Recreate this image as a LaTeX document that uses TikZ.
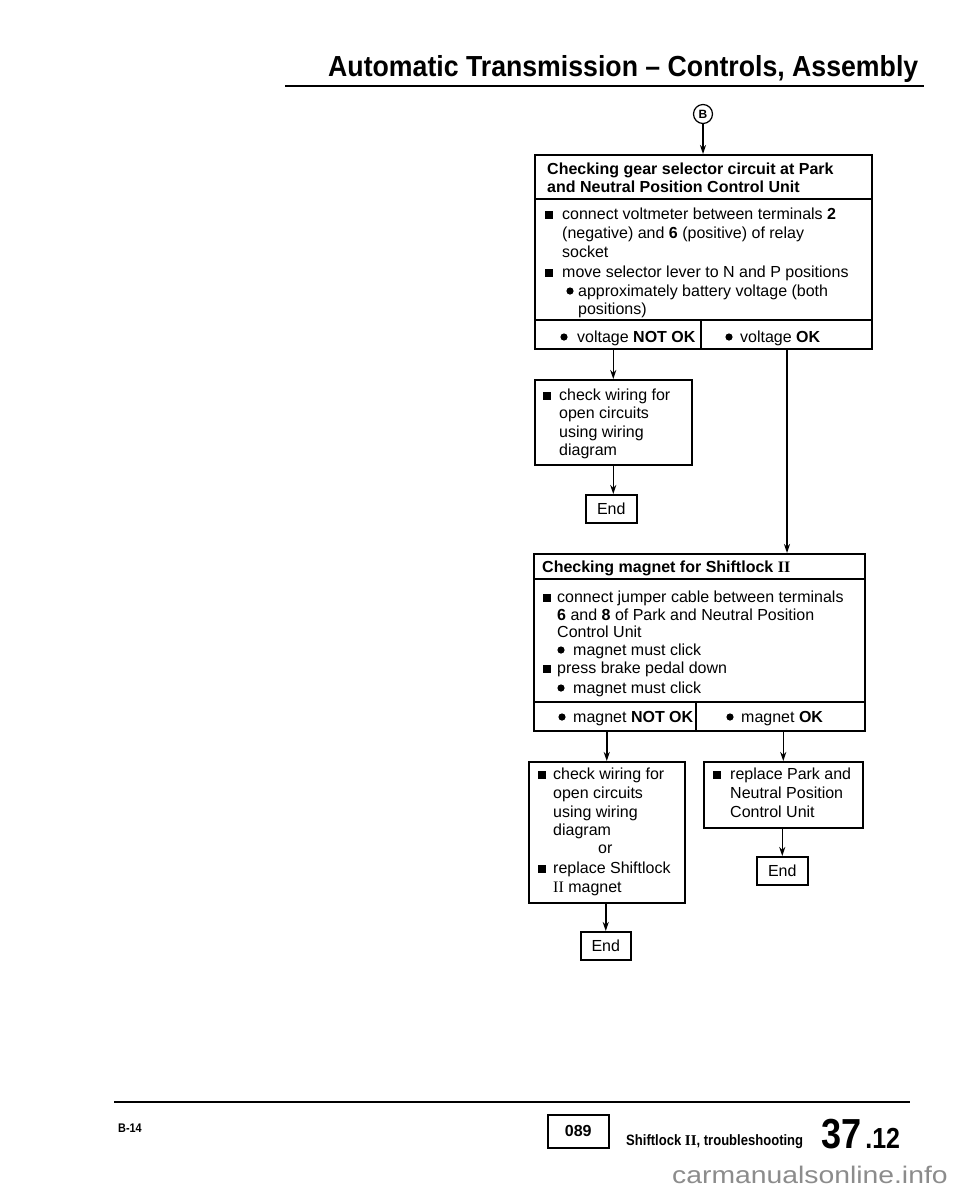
\documentclass[tikz,border=0pt]{standalone}
\usepackage{fontspec}
\setmainfont{Liberation Sans}
\newfontfamily\serifII{Liberation Serif}
\newfontfamily\titlefont[FakeStretch=0.92]{Liberation Sans}
\newfontfamily\condfont[FakeStretch=0.87]{Liberation Sans}
\newfontfamily\numfont[FakeStretch=0.86]{Liberation Sans}
\newfontfamily\wmfont[FakeStretch=1.18]{Liberation Sans}
\usetikzlibrary{arrows.meta}
\newcommand\rmII{{\serifII II}}
\tikzset{
  box/.style={draw, line width=1.5pt, anchor=north west, inner sep=0pt},
  endbox/.style={box, minimum width=51pt, minimum height=28pt, font=\fontsize{16}{19}\selectfont},
  txt/.style={anchor=base west, inner sep=0pt, font=\fontsize{16}{19}\selectfont},
  htxt/.style={txt, font=\bfseries\fontsize{16}{19}\selectfont},
  arr/.style={line width=1.5pt, -{Stealth[length=9pt,width=6pt]}},
  divider/.style={line width=1.5pt},
  rulebar/.style={line width=2.4pt},
}
\newcommand\bsq[2]{\fill (#1,#2) rectangle ++(8,-8);}
\newcommand\bdot[2]{\fill (#1,#2-5) circle (3.6);}
\begin{document}
\begin{tikzpicture}[x=1pt,y=-1pt]
\useasboundingbox (0,0) rectangle (960,1187);
\fill[white] (0,0) rectangle (960,1187);

% title
\node[anchor=base west, inner sep=0pt, font=\titlefont\bfseries\fontsize{29}{30}\selectfont] (title) at (328,76) {Automatic Transmission \textendash\ Controls, Assembly};
\draw[rulebar] (285,86) -- (924,86);

% marker B
\node[draw, circle, line width=1.2pt, minimum size=19pt, inner sep=0pt, font=\bfseries\fontsize{12}{12}\selectfont] (circB) at (703,114) {B};

% Box 1
\node[box, minimum width=337pt, minimum height=194pt] (b1) at (534,154) {};
\draw[divider] (534,199) -- (871,199);
\draw[divider] (534,320) -- (871,320);
\draw[divider] (701,320) -- (701,348);
\node[htxt] (h1a) at (547,174) {Checking gear selector circuit at Park};
\node[htxt] (h1b) at (547,192) {and Neutral Position Control Unit};
\bsq{545}{219}
\node[txt] (l1a) at (562,219) {connect voltmeter between terminals \textbf{2}};
\node[txt] (l1b) at (562,238) {(negative) and \textbf{6} (positive) of relay};
\node[txt] (l1c) at (562,257) {socket};
\bsq{545}{277}
\node[txt] (l1d) at (562,277) {move selector lever to N and P positions};
\bdot{570}{296}
\node[txt] (l1e) at (578,296) {approximately battery voltage (both};
\node[txt] (l1f) at (578,314) {positions)};
\bdot{564}{342}
\node[txt] (l1g) at (577,342) {voltage \textbf{NOT OK}};
\bdot{729}{342}
\node[txt] (l1h) at (740,342) {voltage \textbf{OK}};
\coordinate (b1R) at (787,334);

% Box 2
\node[box, minimum width=157pt, minimum height=85pt] (b2) at (534,379) {};
\bsq{543}{400}
\node[txt] (l2a) at (559,400) {check wiring for};
\node[txt] (l2b) at (559,418) {open circuits};
\node[txt] (l2c) at (559,437) {using wiring};
\node[txt] (l2d) at (559,455) {diagram};

% End 1
\node[endbox] (e1) at (585,494) {End};

% Box 3
\node[box, minimum width=331pt, minimum height=177pt] (b3) at (533,553) {};
\draw[divider] (533,579) -- (864,579);
\draw[divider] (533,702) -- (864,702);
\draw[divider] (696,702) -- (696,730);
\node[htxt] (h3) at (542,572) {Checking magnet for Shiftlock \rmII};
\bsq{543}{602}
\node[txt] (l3a) at (557,602) {connect jumper cable between terminals};
\node[txt] (l3b) at (557,620) {\textbf{6} and \textbf{8} of Park and Neutral Position};
\node[txt] (l3c) at (557,637) {Control Unit};
\bdot{561}{655}
\node[txt] (l3d) at (573,655) {magnet must click};
\bsq{543}{673}
\node[txt] (l3e) at (557,673) {press brake pedal down};
\bdot{561}{693}
\node[txt] (l3f) at (573,693) {magnet must click};
\bdot{562}{722}
\node[txt] (l3g) at (573,722) {magnet \textbf{NOT OK}};
\bdot{730}{722}
\node[txt] (l3h) at (741,722) {magnet \textbf{OK}};

% Box 4
\node[box, minimum width=156pt, minimum height=141pt] (b4) at (528,761) {};
\bsq{538}{779}
\node[txt] (l4a) at (553,779) {check wiring for};
\node[txt] (l4b) at (553,798) {open circuits};
\node[txt] (l4c) at (553,817) {using wiring};
\node[txt] (l4d) at (553,835) {diagram};
\node[txt] (l4e) at (598,853) {or};
\bsq{538}{873}
\node[txt] (l4f) at (553,873) {replace Shiftlock};
\node[txt] (l4g) at (553,892) {\rmII\ magnet};

% Box 5
\node[box, minimum width=159pt, minimum height=66pt] (b5) at (703,761) {};
\bsq{713}{779}
\node[txt] (l5a) at (730,779) {replace Park and};
\node[txt] (l5b) at (730,798) {Neutral Position};
\node[txt] (l5c) at (730,817) {Control Unit};

% End 2, End 3
\node[endbox, minimum width=50pt] (e2) at (580,931) {End};
\node[endbox] (e3) at (756,856) {End};

% connectors
\draw[arr] (circB) -- (circB |- b1.north);
\draw[arr] (b2.north |- b1.south) -- (b2.north);
\draw[arr] (b2.south) -- (b2.south |- e1.north);
\draw[arr] (b1R |- b1.south) -- (b1R |- b3.north);
\draw[arr] (b4.north |- b3.south) -- (b4.north);
\draw[arr] (b5.north |- b3.south) -- (b5.north);
\draw[arr] (e2.north |- b4.south) -- (e2.north);
\draw[arr] (e3.north |- b5.south) -- (e3.north);

% footer
\draw[rulebar] (114,1102) -- (910,1102);
\node[anchor=base west, inner sep=0pt, font=\condfont\bfseries\fontsize{12.5}{12.5}\selectfont] (pg) at (118,1132) {B-14};
\node[box, line width=1.6pt, minimum width=61pt, minimum height=33pt, font=\bfseries\fontsize{16}{16}\selectfont] (code) at (547,1114) {089};
\node[anchor=base west, inner sep=0pt, font=\condfont\bfseries\fontsize{15}{15}\selectfont] (foot) at (626,1145) {Shiftlock \rmII, troubleshooting};
\node[anchor=base west, inner sep=0pt, font=\numfont\bfseries\fontsize{42}{42}\selectfont] (num) at (821,1148) {37\hspace{4pt}\fontsize{29}{29}\selectfont.12};
\node[anchor=base west, inner sep=0pt, text=black!45, font=\wmfont\fontsize{24}{24}\selectfont] (wm) at (672,1183) {carmanualsonline.info};
\end{tikzpicture}
\end{document}
